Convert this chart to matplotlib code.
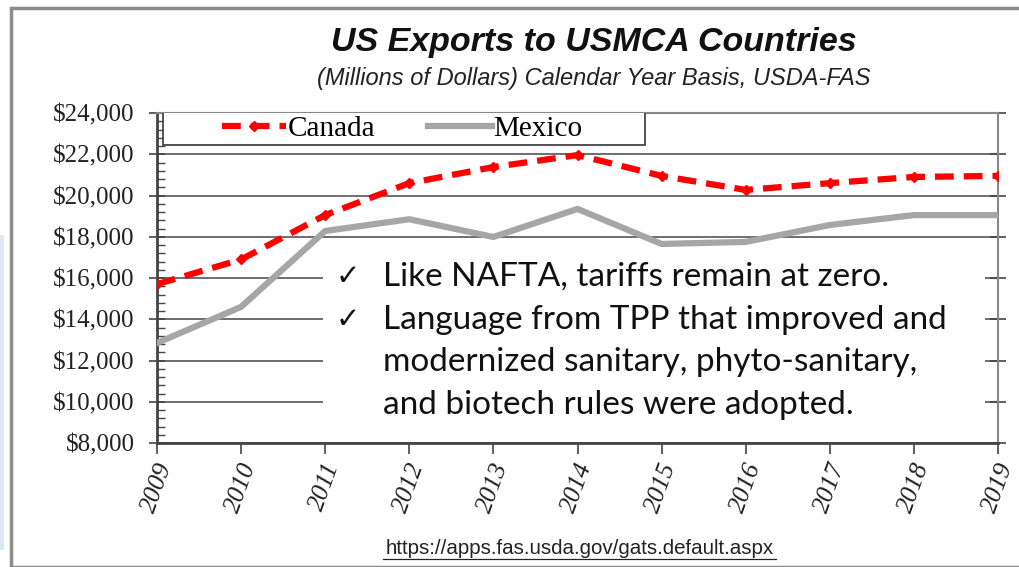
import matplotlib.pyplot as plt
import matplotlib.ticker as mticker
from matplotlib.patches import Rectangle
from matplotlib.lines import Line2D

years = [2009, 2010, 2011, 2012, 2013, 2014, 2015, 2016, 2017, 2018, 2019]
canada = [15700, 16900, 19050, 20600, 21380, 21960, 20950, 20270, 20600, 20900, 20950]
mexico = [12850, 14600, 18280, 18850, 17990, 19350, 17650, 17750, 18570, 19050, 19050]

title = "US Exports to USMCA Countries"
subtitle = "(Millions of Dollars) Calendar Year Basis, USDA-FAS"
note_lines = ["Like NAFTA, tariffs remain at zero.",
              "Language from TPP that improved and",
              "modernized sanitary, phyto-sanitary,",
              "and biotech rules were adopted."]
bullets = [True, True, False, False]
source = "https://apps.fas.usda.gov/gats.default.aspx"

fig = plt.figure(figsize=(10.2, 5.67), dpi=100)
W, H = 1020, 567

# outer frame of the slide picture
fig.patches.append(Rectangle((11 / W, 0), 1.2, 1 - 8 / H, transform=fig.transFigure,
                             fill=False, edgecolor="#8c8c8c", linewidth=2.5))
fig.patches.append(Rectangle((0, 1 - 550 / H), 4 / W, 315 / H, transform=fig.transFigure,
                             facecolor="#dce6f4", edgecolor="none"))

ax = fig.add_axes([157 / W, 1 - 443 / H, 841 / W, 330 / H])
ax.set_axisbelow(True)

dash = (0, (3, 1.6))
ax.plot(years, canada, color="#ff0000", linewidth=4.5, linestyle=dash,
        marker="D", markersize=5, zorder=4, label="Canada")
ax.plot(years, mexico, color="#a6a6a6", linewidth=4.5, zorder=3, label="Mexico")

ax.set_xlim(2009, 2019)
ax.set_ylim(8000, 24000)
ax.set_xticks(years)
ax.set_yticks(range(8000, 24001, 2000))
ax.yaxis.set_minor_locator(mticker.MultipleLocator(400))
ax.yaxis.set_major_formatter(mticker.FuncFormatter(lambda v, p: "${:,.0f}".format(v)))
ax.grid(axis="y", color="#555555", linewidth=1.2)

ax.tick_params(axis="y", which="major", direction="inout", length=12, width=1.2,
               color="#444444", right=True, labelsize=18, pad=10)
ax.tick_params(axis="y", which="minor", direction="in", length=6, width=1, color="#444444")
ax.tick_params(axis="x", which="major", direction="out", length=8, width=1.2,
               color="#444444", labelsize=18.5, pad=4)
for lab in ax.get_yticklabels():
    lab.set_family("Liberation Serif")
    lab.set_color("#222222")
for lab in ax.get_xticklabels():
    lab.set_family("Liberation Serif")
    lab.set_style("italic")
    lab.set_rotation(70)
    lab.set_color("#222222")

for side in ["left", "bottom"]:
    ax.spines[side].set_color("#444444")
    ax.spines[side].set_linewidth(2)
for side in ["top", "right"]:
    ax.spines[side].set_color("#888888")
    ax.spines[side].set_linewidth(1.5)

# white note box covering the grid
ax.add_patch(Rectangle((323 / W, 1 - 432 / H), 662 / W, 180 / H, transform=fig.transFigure,
                       facecolor="white", edgecolor="none", zorder=1))

# legend: frameless legend inside a drawn box
ax.add_patch(Rectangle((163 / W, 1 - 145 / H), 482 / W, 33 / H, transform=fig.transFigure,
                       facecolor="white", edgecolor="#444444", linewidth=1.3, zorder=5))
handles = [Line2D([], [], color="#ff0000", linewidth=4.5, linestyle=dash,
                  marker="D", markersize=5),
           Line2D([], [], color="#a6a6a6", linewidth=4.5)]
leg = ax.legend(handles, ["Canada", "Mexico"], loc="center left", ncol=2,
                bbox_to_anchor=(222 / W, 1 - 129 / H), bbox_transform=fig.transFigure,
                borderaxespad=0, borderpad=0, frameon=False, handlelength=2.2,
                handletextpad=0.05, columnspacing=1.8,
                prop={"family": "Liberation Serif", "size": 21})
leg.set_zorder(6)

fig.text(594 / W, 1 - 42 / H, title, ha="center", va="center", fontsize=24.5,
         fontweight="bold", style="italic", family="Liberation Sans", color="#111111")
fig.text(594 / W, 1 - 78 / H, subtitle, ha="center", va="center", fontsize=17,
         style="italic", family="Liberation Sans", color="#222222")

# notes, one line at a time
line_y = [277, 320, 362, 405]
for y, line, bullet in zip(line_y, note_lines, bullets):
    if bullet:
        fig.text(336 / W, 1 - y / H, "\u2713", ha="left", va="center", fontsize=21,
                 family="DejaVu Sans", color="#111111")
    fig.text(383 / W, 1 - y / H, line, ha="left", va="center", fontsize=24,
             family="Lato", color="#111111")

fig.text(580 / W, 1 - 548 / H, source, ha="center", va="center", fontsize=14.8,
         family="Liberation Sans", color="#222222")
fig.add_artist(Line2D([383 / W, 776 / W], [1 - 559 / H, 1 - 559 / H],
                      transform=fig.transFigure, color="#222222", linewidth=0.9))

fig.savefig("out.png", dpi=100)
